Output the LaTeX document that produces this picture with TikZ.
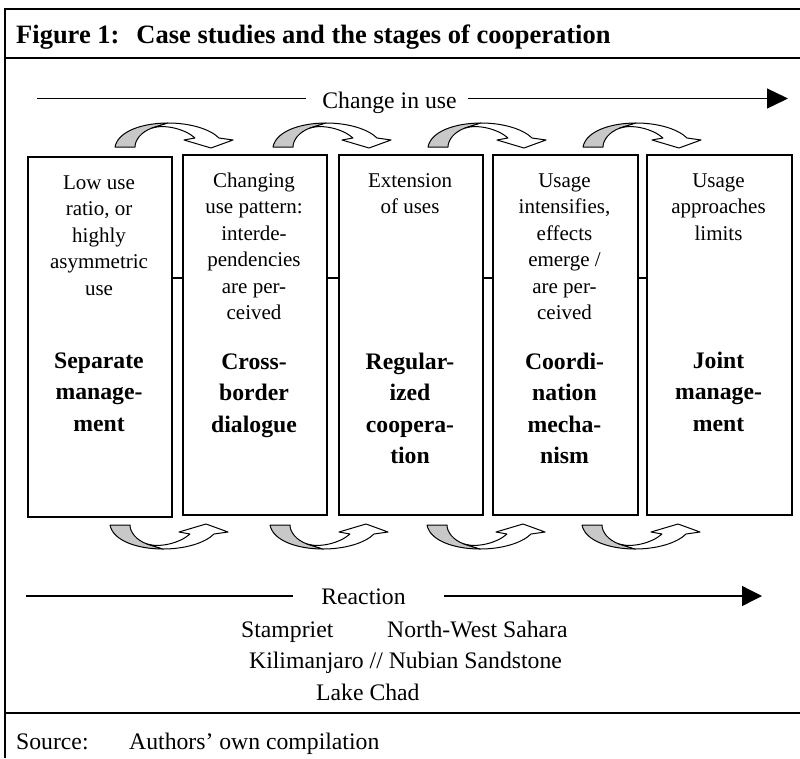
\documentclass[tikz,border=0pt]{standalone}
\usepackage{fontspec}
\setmainfont{Liberation Serif}
\usetikzlibrary{arrows.meta}
\definecolor{shade}{RGB}{200,200,200}
\tikzset{
  frameline/.style={line width=2pt},
  stagebox/.style={draw, line width=1.5pt, minimum width=144pt, minimum height=360pt, inner sep=0pt, anchor=north west},
  usetext/.style={font=\fontsize{21}{26.5}\selectfont, align=center, inner sep=0pt, anchor=north},
  stagetext/.style={font=\bfseries\fontsize{23.7}{31.5}\selectfont, align=center, inner sep=0pt, anchor=north},
  plain/.style={font=\fontsize{23.7}{28}\selectfont, inner sep=0pt},
  link/.style={line width=1.2pt},
  rule/.style={line width=1.3pt},
  curvarrow/.pic={
    \filldraw[fill=shade, draw=black, line width=1pt, line join=round]
      (0,0) .. controls (3,-16) and (28,-24) .. (53,-24) -- (37,-19)
      .. controls (26,-15) and (20,-7) .. (20,0) -- cycle;
    \filldraw[fill=white, draw=black, line width=1pt, line join=round]
      (37,-19) -- (53,-24) .. controls (75,-24) and (95,-18) .. (104,-9)
      -- (118,-7) -- (96,1) -- (69,-7) -- (80,-9)
      .. controls (70,-18) and (50,-23) .. (37,-19) -- cycle;
  }
}
\begin{document}
\begin{tikzpicture}[x=1pt,y=-1pt]
\useasboundingbox (0,0) rectangle (800,758);
% frame
\draw[frameline] (5,758) -- (5,8.5) -- (800,8.5);
\draw[frameline] (5,58) -- (800,58);
\draw[frameline] (5,713) -- (800,713);
% title
\node[anchor=base west, font=\bfseries\fontsize{26.5}{30}\selectfont, inner sep=0pt] (title) at (16,43)
  {Figure 1:\hspace{17pt}Case studies and the stages of cooperation};
% change in use
\node[plain, anchor=base] (chg) at (389.5,108) {Change in use};
\coordinate (cl) at (37,98.5);
\coordinate (cr) at (788,98.5);
\draw[rule] (cl) -- ([xshift=-16pt]chg.west |- cl);
\draw[rule, -{Triangle[length=21pt,width=20pt]}] ([xshift=11pt]chg.east |- cl) -- (cr);
% boxes
\node[stagebox] (b1) at (27,156) {};
\node[stagebox] (b2) at (182,154) {};
\node[stagebox] (b3) at (338,154) {};
\node[stagebox, minimum width=145pt] (b4) at (492,154) {};
\node[stagebox, minimum width=145pt] (b5) at (646,154) {};
\coordinate (mid) at (0,278);
\draw[link] (b1.east |- mid) -- (b2.west |- mid);
\draw[link] (b2.east |- mid) -- (b3.west |- mid);
\draw[link] (b3.east |- mid) -- (b4.west |- mid);
\draw[link] (b4.east |- mid) -- (b5.west |- mid);
% box texts
\node[usetext] (u1) at (99,173) {\rule{0pt}{16pt}Low use\\ratio, or\\highly\\asymmetric\\use};
\node[usetext] (u2) at (254,171) {\rule{0pt}{16pt}Changing\\use pattern:\\interde-\\pendencies\\are per-\\ceived};
\node[usetext] (u3) at (410,171) {\rule{0pt}{16pt}Extension\\of uses};
\node[usetext] (u4) at (564.5,171) {\rule{0pt}{16pt}Usage\\intensifies,\\effects\\emerge /\\are per-\\ceived};
\node[usetext] (u5) at (718.5,171) {\rule{0pt}{16pt}Usage\\approaches\\limits};
\node[stagetext] (s1) at (99,350) {\rule{0pt}{18pt}Separate\\manage-\\ment};
\node[stagetext] (s2) at (254,351) {\rule{0pt}{18pt}Cross-\\border\\dialogue};
\node[stagetext] (s3) at (410,351) {\rule{0pt}{18pt}Regular-\\ized\\coopera-\\tion};
\node[stagetext] (s4) at (564.5,351) {\rule{0pt}{18pt}Coordi-\\nation\\mecha-\\nism};
\node[stagetext] (s5) at (718.5,350) {\rule{0pt}{18pt}Joint\\manage-\\ment};
% curved arrows
\pic at (115,147) {curvarrow};
\pic at (273,147) {curvarrow};
\pic at (428,147) {curvarrow};
\pic at (583,147) {curvarrow};
\pic[yscale=-1] at (110,525) {curvarrow};
\pic[yscale=-1] at (270,525) {curvarrow};
\pic[yscale=-1] at (427,525) {curvarrow};
\pic[yscale=-1] at (582,525) {curvarrow};
% reaction
\node[plain, anchor=base] (rea) at (363.5,604) {Reaction};
\coordinate (rl) at (26,596);
\coordinate (rr) at (762,596);
\draw[rule] (rl) -- ([xshift=-28pt]rea.west |- rl);
\draw[rule, -{Triangle[length=20pt,width=20pt]}] ([xshift=38pt]rea.east |- rl) -- (rr);
\node[plain, anchor=base west] (c1) at (241,637) {Stampriet};
\node[plain, anchor=base west] (c2) at (387,637) {North-West Sahara};
\node[plain, anchor=base west] (c3) at (249,668.5) {Kilimanjaro // Nubian Sandstone};
\node[plain, anchor=base west] (c4) at (316,700.5) {Lake Chad};
% source
\node[plain, anchor=base west] (src) at (16,749.5) {Source:};
\node[plain, anchor=base west] (srct) at (129,749.5) {Authors’ own compilation};
\end{tikzpicture}
\end{document}
